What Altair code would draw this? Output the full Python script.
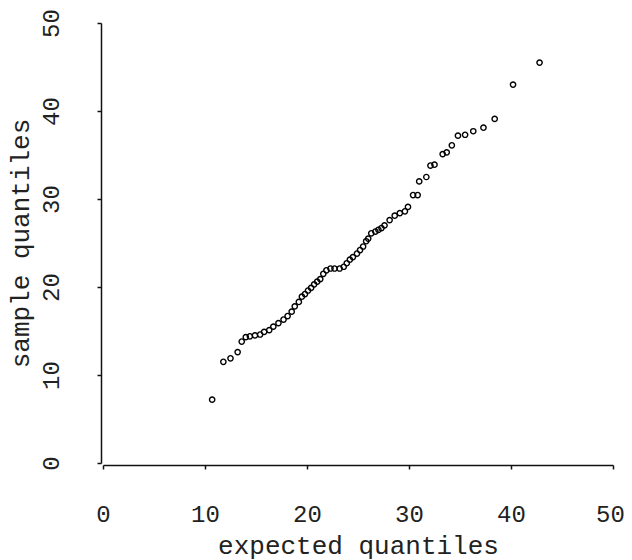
import altair as alt
import pandas as pd

# expected quantiles (x) and sample quantiles (y)
expected = [10.7, 11.8, 12.5, 13.2, 13.6, 14.0, 14.4, 14.9, 15.4, 15.8,
            16.3, 16.7, 17.2, 17.7, 18.1, 18.5, 18.8, 19.2, 19.5, 19.8,
            20.1, 20.4, 20.7, 21.0, 21.3, 21.6, 21.9, 22.3, 22.7, 23.2,
            23.6, 23.9, 24.2, 24.5, 24.9, 25.2, 25.5, 25.8, 26.0, 26.3,
            26.7, 27.0, 27.3, 27.6, 28.1, 28.6, 29.1, 29.6, 29.9, 30.4,
            30.85, 31.0, 31.7, 32.1, 32.5, 33.3, 33.7, 34.2, 34.8, 35.5,
            36.3, 37.3, 38.4, 40.2, 42.8]
sample = [7.2, 11.5, 11.9, 12.6, 13.8, 14.3, 14.4, 14.5, 14.6, 14.9,
          15.1, 15.5, 15.9, 16.3, 16.7, 17.2, 17.8, 18.3, 18.9, 19.2,
          19.6, 19.9, 20.3, 20.6, 20.9, 21.5, 21.9, 22.1, 22.1, 22.1,
          22.3, 22.7, 23.1, 23.4, 23.8, 24.2, 24.6, 25.2, 25.5, 26.1,
          26.3, 26.5, 26.7, 27.0, 27.6, 28.1, 28.4, 28.6, 29.1, 30.45,
          30.45, 32.0, 32.5, 33.8, 33.9, 35.1, 35.3, 36.1, 37.2, 37.3,
          37.7, 38.1, 39.1, 43.0, 45.5]
tick_values = [0, 10, 20, 30, 40, 50]

df = pd.DataFrame({"expected": expected, "sample": sample})

FONT = "Courier New, Liberation Mono, monospace"
TXT = "#222222"

x_axis = alt.Axis(
    values=tick_values, grid=False, offset=2,
    domainColor="#111111", domainWidth=1.5,
    tickColor="#111111", tickWidth=1.5, tickSize=4,
    labelFont=FONT, labelFontSize=24, labelColor=TXT,
    labelBaseline="alphabetic", labelPadding=52,
    labelOffset={"condition": {"test": "datum.value == 50", "value": -3}, "value": 0},
    labelFlush=False, labelOverlap=False,
    title="expected quantiles", titleFont=FONT, titleFontSize=26,
    titleFontWeight="normal", titleColor=TXT,
    titleBaseline="alphabetic", titleX=255, titleY=88,
)
y_axis = alt.Axis(
    values=tick_values, grid=False, offset=2,
    domainColor="#111111", domainWidth=1.5,
    tickColor="#111111", tickWidth=1.5, tickSize=4,
    labelFont=FONT, labelFontSize=24, labelColor=TXT,
    labelAngle=270, labelAlign="center", labelBaseline="alphabetic",
    labelPadding=39, labelFlush=False, labelOverlap=False,
    title="sample quantiles", titleFont=FONT, titleFontSize=26,
    titleFontWeight="normal", titleColor=TXT,
    titleAngle=270, titleAlign="center", titleBaseline="alphabetic",
    titleX=-73, titleY=220,
)

chart = (
    alt.Chart(df)
    .mark_point(shape="circle", filled=False, size=28, strokeWidth=1.4,
                color="#000000", opacity=1)
    .encode(
        x=alt.X("expected:Q", scale=alt.Scale(domain=[0, 50], nice=False, zero=False), axis=x_axis),
        y=alt.Y("sample:Q", scale=alt.Scale(domain=[0, 50], nice=False, zero=False), axis=y_axis),
    )
    .properties(
        width=510, height=440,
        autosize=alt.AutoSizeParams(type="none"),
        padding={"left": 95, "top": 15, "right": 11, "bottom": 97},
        background="white",
    )
    .configure_view(stroke=None)
)

chart.save("out.html", embed_options={"renderer": "svg", "actions": False})
